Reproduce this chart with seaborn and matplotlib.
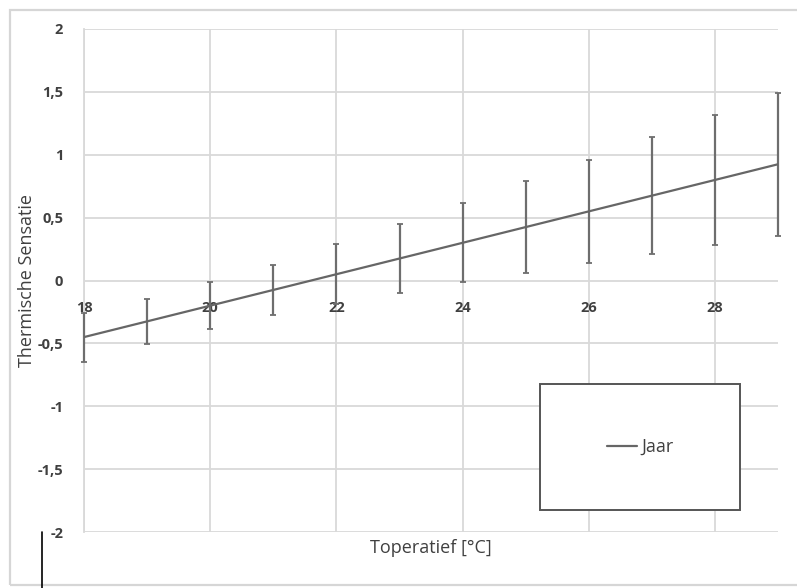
import matplotlib
matplotlib.use("Agg")
import matplotlib.pyplot as plt
import seaborn as sns
import pandas as pd
from matplotlib.patches import Rectangle
from matplotlib.lines import Line2D

# ---- data ----
temps = [18, 19, 20, 21, 22, 23, 24, 25, 26, 27, 28, 29]
sensatie = [-0.45, -0.325, -0.2, -0.075, 0.05, 0.175, 0.30, 0.425, 0.55, 0.675, 0.80, 0.925]
spreiding = [0.195, 0.18, 0.185, 0.20, 0.24, 0.275, 0.315, 0.365, 0.41, 0.465, 0.52, 0.57]
x_ticks = [18, 20, 22, 24, 26, 28]
y_ticks = [-2, -1.5, -1, -0.5, 0, 0.5, 1, 1.5, 2]
y_ticklabels = ["-2", "-1,5", "-1", "-0,5", "0", "0,5", "1", "1,5", "2"]
series_name = "Jaar"
x_label = "Toperatief [°C]"
y_label = "Thermische Sensatie"

df = pd.DataFrame({"T": temps, "S": sensatie, "E": spreiding})

sns.set_theme(style="whitegrid")
plt.rcParams["font.family"] = ["Open Sans", "DejaVu Sans"]

W, H = 797, 588
fig = plt.figure(figsize=(W / 100, H / 100), dpi=100)
ax = fig.add_axes([84 / W, 1 - 532 / H, (778.3 - 84) / W, (532 - 29) / H])

line_col = "#666666"
grid_col = "#d9d9d9"
text_col = "#404040"

ax.errorbar(df["T"], df["S"], yerr=df["E"], fmt="none", ecolor="#6e6e6e",
            elinewidth=1.6, capsize=2.5, capthick=1.3, zorder=3, clip_on=False)
sns.lineplot(data=df, x="T", y="S", ax=ax, color=line_col, linewidth=1.6,
             label=series_name, zorder=4, legend=False)

ax.set_xlim(18, 29)
ax.set_ylim(-2, 2)
ax.set_xticks(x_ticks)
ax.set_xticklabels([str(t) for t in x_ticks])
ax.set_yticks(y_ticks)
ax.set_yticklabels(y_ticklabels)

ax.grid(True, color=grid_col, linewidth=1.3)
ax.set_axisbelow(True)
ax.set_facecolor("white")

for s in ["top", "right"]:
    ax.spines[s].set_visible(False)
ax.spines["left"].set_color(grid_col)
ax.spines["left"].set_linewidth(1.3)
ax.spines["bottom"].set_position(("data", 0))
ax.spines["bottom"].set_visible(False)

ax.tick_params(axis="x", length=0, pad=14.5, labelsize=10.5, labelcolor=text_col)
ax.tick_params(axis="y", length=0, pad=15, labelsize=10.5, labelcolor=text_col)
for lbl in ax.get_xticklabels() + ax.get_yticklabels():
    lbl.set_fontweight("bold")

ax.set_xlabel(x_label, fontsize=13, color=text_col)
ax.set_ylabel(y_label, fontsize=13, color=text_col)
ax.xaxis.set_label_coords(0.5, -0.014)
ax.yaxis.set_label_coords(-0.069, 0.5)

# legend box
bx0, by0 = (540 - 84) / 694.3, (532 - 510) / 503
bw, bh = 200 / 694.3, 126 / 503
ax.add_patch(Rectangle((bx0, by0), bw, bh, transform=ax.transAxes, facecolor="white",
                       edgecolor="#555555", linewidth=1.4, zorder=5))
handle = Line2D([], [], color=line_col, linewidth=1.6)
leg = ax.legend([handle], [series_name], loc="center",
                bbox_to_anchor=(bx0 + bw / 2, by0 + bh / 2), frameon=False,
                fontsize=13, handlelength=1.7, handletextpad=0.2)
for t in leg.get_texts():
    t.set_color(text_col)
leg.set_zorder(6)

# figure frame decorations
fig.add_artist(Rectangle((10 / W, 3 / H), 1.0, (H - 13) / H, transform=fig.transFigure,
                         facecolor="none", edgecolor="#d6d6d6", linewidth=1.6, zorder=0))
fig.add_artist(Line2D([41.5 / W, 41.5 / W], [0, 1 - 532 / H], transform=fig.transFigure,
                      color="black", linewidth=1.2))

fig.savefig("out.png", dpi=100, facecolor="white")
